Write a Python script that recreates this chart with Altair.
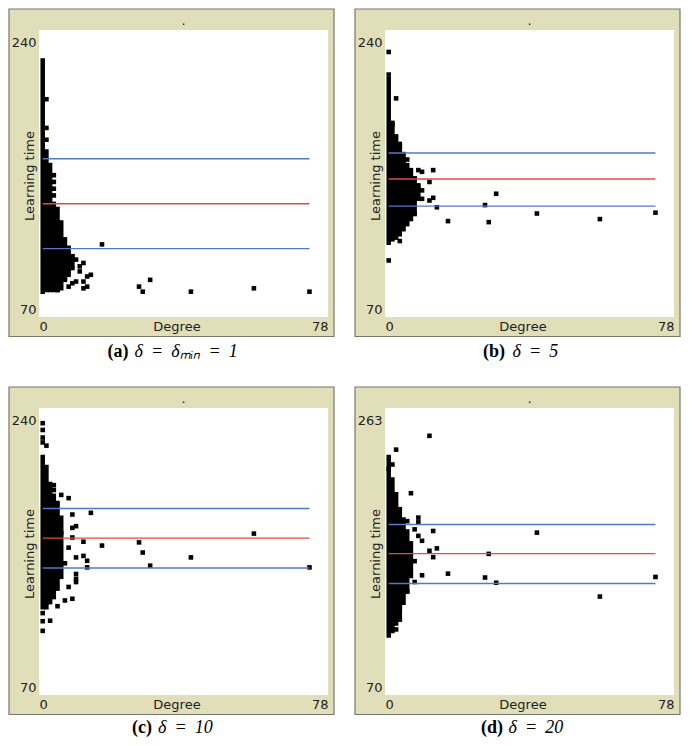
import altair as alt
import pandas as pd

# ---------------- data ----------------
DEG_MIN, DEG_MAX = 1, 73
X_TICKS = [0, 78]

# panel (a)  delta = delta_min = 1
A_DENSE_DEG = [1, 2, 3, 4, 5, 6, 7, 8, 9]
A_DENSE_LO = [85, 86, 86, 86, 86, 87, 92, 95, 100]
A_DENSE_HI = [222, 168, 160, 137, 134, 126, 116, 111, 106]
A_PTS_X = [2, 2, 2, 4, 4, 4, 4, 9, 10, 12, 9, 11, 13, 14, 10, 12, 8, 9, 13, 12,
           5, 7, 11, 17, 27, 28, 30, 41, 58, 73]
A_PTS_Y = [199, 182, 175, 154, 150, 146, 142, 106, 104, 102, 99, 97, 94, 95, 91, 91, 88, 90, 88, 87,
           86, 93, 100, 113, 88, 85, 92, 85, 87, 85]
A_LINES = [110.5, 137.1, 163.7]
A_YMAX = 240

# panel (b)  delta = 5
B_DENSE_DEG = [1, 2, 3, 4, 5, 6, 7, 8, 9]
B_DENSE_LO = [114, 116, 117, 119, 122, 125, 128, 132, 140]
B_DENSE_HI = [211, 185, 177, 171, 164, 160, 157, 152, 148]
B_PTS_X = [1, 1, 3, 2, 4, 4, 5, 6, 9, 10, 13, 8, 12, 10, 9, 8, 10, 13, 12, 30,
           27, 8, 14, 17, 28, 41, 58, 73, 4, 1]
B_PTS_Y = [227, 213.6, 199.5, 184, 172.5, 170.6, 166.5, 163.3, 157, 156, 157, 152, 150, 145, 147, 144.4, 140, 140.6, 139, 143,
           136.3, 131, 135, 126.8, 126.2, 131.3, 128, 131.8, 115, 103.5]
B_LINES = [135.7, 151.7, 167.1]
B_YMAX = 240

# panel (c)  delta = 10
C_DENSE_DEG = [1, 2, 3, 4, 5, 6]
C_DENSE_LO = [122, 122, 125, 128, 133, 140]
C_DENSE_HI = [211, 205, 195, 188, 182, 175]
C_PTS_X = [1, 1, 1, 1, 2, 1, 1, 3, 1, 4, 4, 6, 8, 5, 14, 9, 10, 9, 6, 9,
           12, 27, 58, 17, 8, 28, 12, 10, 41, 13, 7, 30, 13, 73, 10, 10, 10, 8, 4, 9,
           7, 5]
C_PTS_Y = [231, 227, 222.5, 219.6, 217.7, 118.5, 113.7, 114, 108, 194.3, 191.4, 188.5, 186.6, 183.7, 177.9, 176.9, 170, 169, 166, 163.3,
           160.8, 160.4, 165.6, 158.5, 157.3, 154.4, 152.4, 151.5, 151.5, 149.5, 148, 146.6, 145.6, 145.6, 141.7, 138.8, 136.9, 134, 133, 127,
           126, 122.6]
C_LINES = [145.2, 162.9, 180.5]
C_YMAX = 240

# panel (d)  delta = 20
D_DENSE_DEG = [1, 2, 3, 4, 5, 6, 7]
D_DENSE_LO = [110, 113, 118, 122, 132, 140, 150]
D_DENSE_HI = [230, 215, 205, 195, 188, 180, 172]
D_PTS_X = [12, 3, 7, 9, 9, 6, 13, 41, 8, 9, 10, 14, 12, 28, 13, 8, 17, 10, 27, 30,
           73, 8, 6, 58, 4, 4, 3, 2, 1]
D_PTS_Y = [244.3, 235, 205.7, 189.3, 186.1, 186.9, 180.3, 179.2, 181.4, 177, 173.7, 168.6, 167, 164.9, 162.7, 160, 151.6, 150.5, 149, 145.5,
           149.4, 146, 139.5, 136.2, 128.5, 120.7, 114.1, 225, 222]
D_LINES = [145.0, 165.1, 184.7]
D_YMAX = 263

# ---------------- styling ----------------
W, H = 289, 287
TAN = "#e0dfb9"
BLUE = "#5279c6"
RED = "#e24a45"
UI_FONT = "DejaVu Sans"
CAP_FONT = "Liberation Serif"
TXT = "#222222"


def panel(dd, dlo, dhi, px, py, lines, ymax, bold, math, bold_dx, math_dx, cap_dy):
    xs = alt.Scale(domain=[0, 78], nice=False, zero=False)
    ys = alt.Scale(domain=[70, ymax], nice=False, zero=False)
    xaxis = alt.Axis(
        title="Degree", values=X_TICKS, labelFlush=True, ticks=False, tickSize=0,
        domain=False, grid=False, labelPadding=13, labelBaseline="alphabetic",
        labelFont=UI_FONT, labelFontSize=13, labelColor=TXT,
        titleFont=UI_FONT, titleFontSize=13, titleFontWeight="normal", titleColor=TXT,
        titleX=W / 2 - 7, titleY=13.5, titleBaseline="alphabetic", titleAlign="center",
        zindex=1,
    )
    yaxis = alt.Axis(
        title="Learning time", values=[70, ymax], labelFlush=True, ticks=False, tickSize=0,
        domain=False, grid=False, labelPadding=3,
        labelOffset={"condition": {"test": f"datum.value == {ymax}", "value": 6}, "value": -1},
        labelFont=UI_FONT, labelFontSize=13, labelColor=TXT,
        titleFont=UI_FONT, titleFontSize=13, titleFontWeight="normal", titleColor=TXT,
        titleX=-10, titleY=H / 2 + 2, titleAngle=270, titleBaseline="middle", titleAlign="center",
        zindex=1,
    )
    one = pd.DataFrame({"k": [0]})
    frame = alt.Chart(one).mark_rect(fill=TAN, stroke="#77776a", strokeWidth=1.2).encode(
        x=alt.value(-30), x2=alt.value(W + 6), y=alt.value(-21), y2=alt.value(H + 19.5))
    canvas = alt.Chart(one).mark_rect(fill="white").encode(
        x=alt.value(0), x2=alt.value(W), y=alt.value(0), y2=alt.value(H))

    dense_df = pd.DataFrame({"deg": dd, "lo": dlo, "hi": dhi})
    dense = alt.Chart(dense_df).mark_rule(color="black", strokeWidth=4.5, strokeCap="square").encode(
        x=alt.X("deg:Q", scale=xs, axis=xaxis),
        y=alt.Y("lo:Q", scale=ys, axis=yaxis),
        y2="hi:Q",
    )
    pts_df = pd.DataFrame({"deg": px, "lo": py})
    pts = alt.Chart(pts_df).mark_square(size=21, color="black", opacity=1).encode(
        x=alt.X("deg:Q", scale=xs, axis=xaxis),
        y=alt.Y("lo:Q", scale=ys, axis=yaxis),
    )
    line_df = pd.DataFrame({
        "deg": [DEG_MIN] * 3, "deg2": [DEG_MAX] * 3, "lo": lines,
        "c": [BLUE, RED, BLUE],
    })
    hlines = alt.Chart(line_df).mark_rule(strokeWidth=1.4).encode(
        x=alt.X("deg:Q", scale=xs, axis=xaxis), x2="deg2:Q",
        y=alt.Y("lo:Q", scale=ys, axis=yaxis),
        color=alt.Color("c:N", scale=None),
    )
    dot = alt.Chart(one).mark_text(text=".", font=UI_FONT, fontSize=13, color=TXT).encode(
        x=alt.value(W / 2), y=alt.value(-9))
    cx = (W - 24) / 2
    cap_y = H + 19.5 + cap_dy
    cap1 = alt.Chart(one).mark_text(text=bold, font=CAP_FONT, fontSize=18, fontWeight="bold",
                                    align="right", baseline="alphabetic", color="black").encode(
        x=alt.value(cx + bold_dx), y=alt.value(cap_y))
    cap2 = alt.Chart(one).mark_text(text=math, font=CAP_FONT, fontSize=18, fontStyle="italic",
                                    align="left", baseline="alphabetic", color="black").encode(
        x=alt.value(cx + math_dx), y=alt.value(cap_y))
    return alt.layer(frame, canvas, dense, pts, hlines, dot, cap1, cap2).properties(width=W, height=H)


GAP = "\u00a0\u2009"
pa = panel(A_DENSE_DEG, A_DENSE_LO, A_DENSE_HI, A_PTS_X, A_PTS_Y, A_LINES, A_YMAX,
           "(a)", f"δ{GAP}={GAP}δₘᵢₙ{GAP}={GAP}1", -43, -37, 20)
pb = panel(B_DENSE_DEG, B_DENSE_LO, B_DENSE_HI, B_PTS_X, B_PTS_Y, B_LINES, B_YMAX,
           "(b)", f"δ{GAP}={GAP}5", -12.5, -5, 20)
pc = panel(C_DENSE_DEG, C_DENSE_LO, C_DENSE_HI, C_PTS_X, C_PTS_Y, C_LINES, C_YMAX,
           "(c)", f"δ{GAP}={GAP}10", -19.5, -13.5, 18)
pd_ = panel(D_DENSE_DEG, D_DENSE_LO, D_DENSE_HI, D_PTS_X, D_PTS_Y, D_LINES, D_YMAX,
            "(d)", f"δ{GAP}={GAP}20", -14.5, -9, 18)

chart = alt.concat(
    pa, pb, pc, pd_, columns=2, spacing={"row": 91, "column": 57}, bounds="flush",
    padding=0,
).configure(padding=0, background="white").configure_view(strokeWidth=0)

chart.save("out.html", embed_options={"renderer": "svg", "actions": False})
